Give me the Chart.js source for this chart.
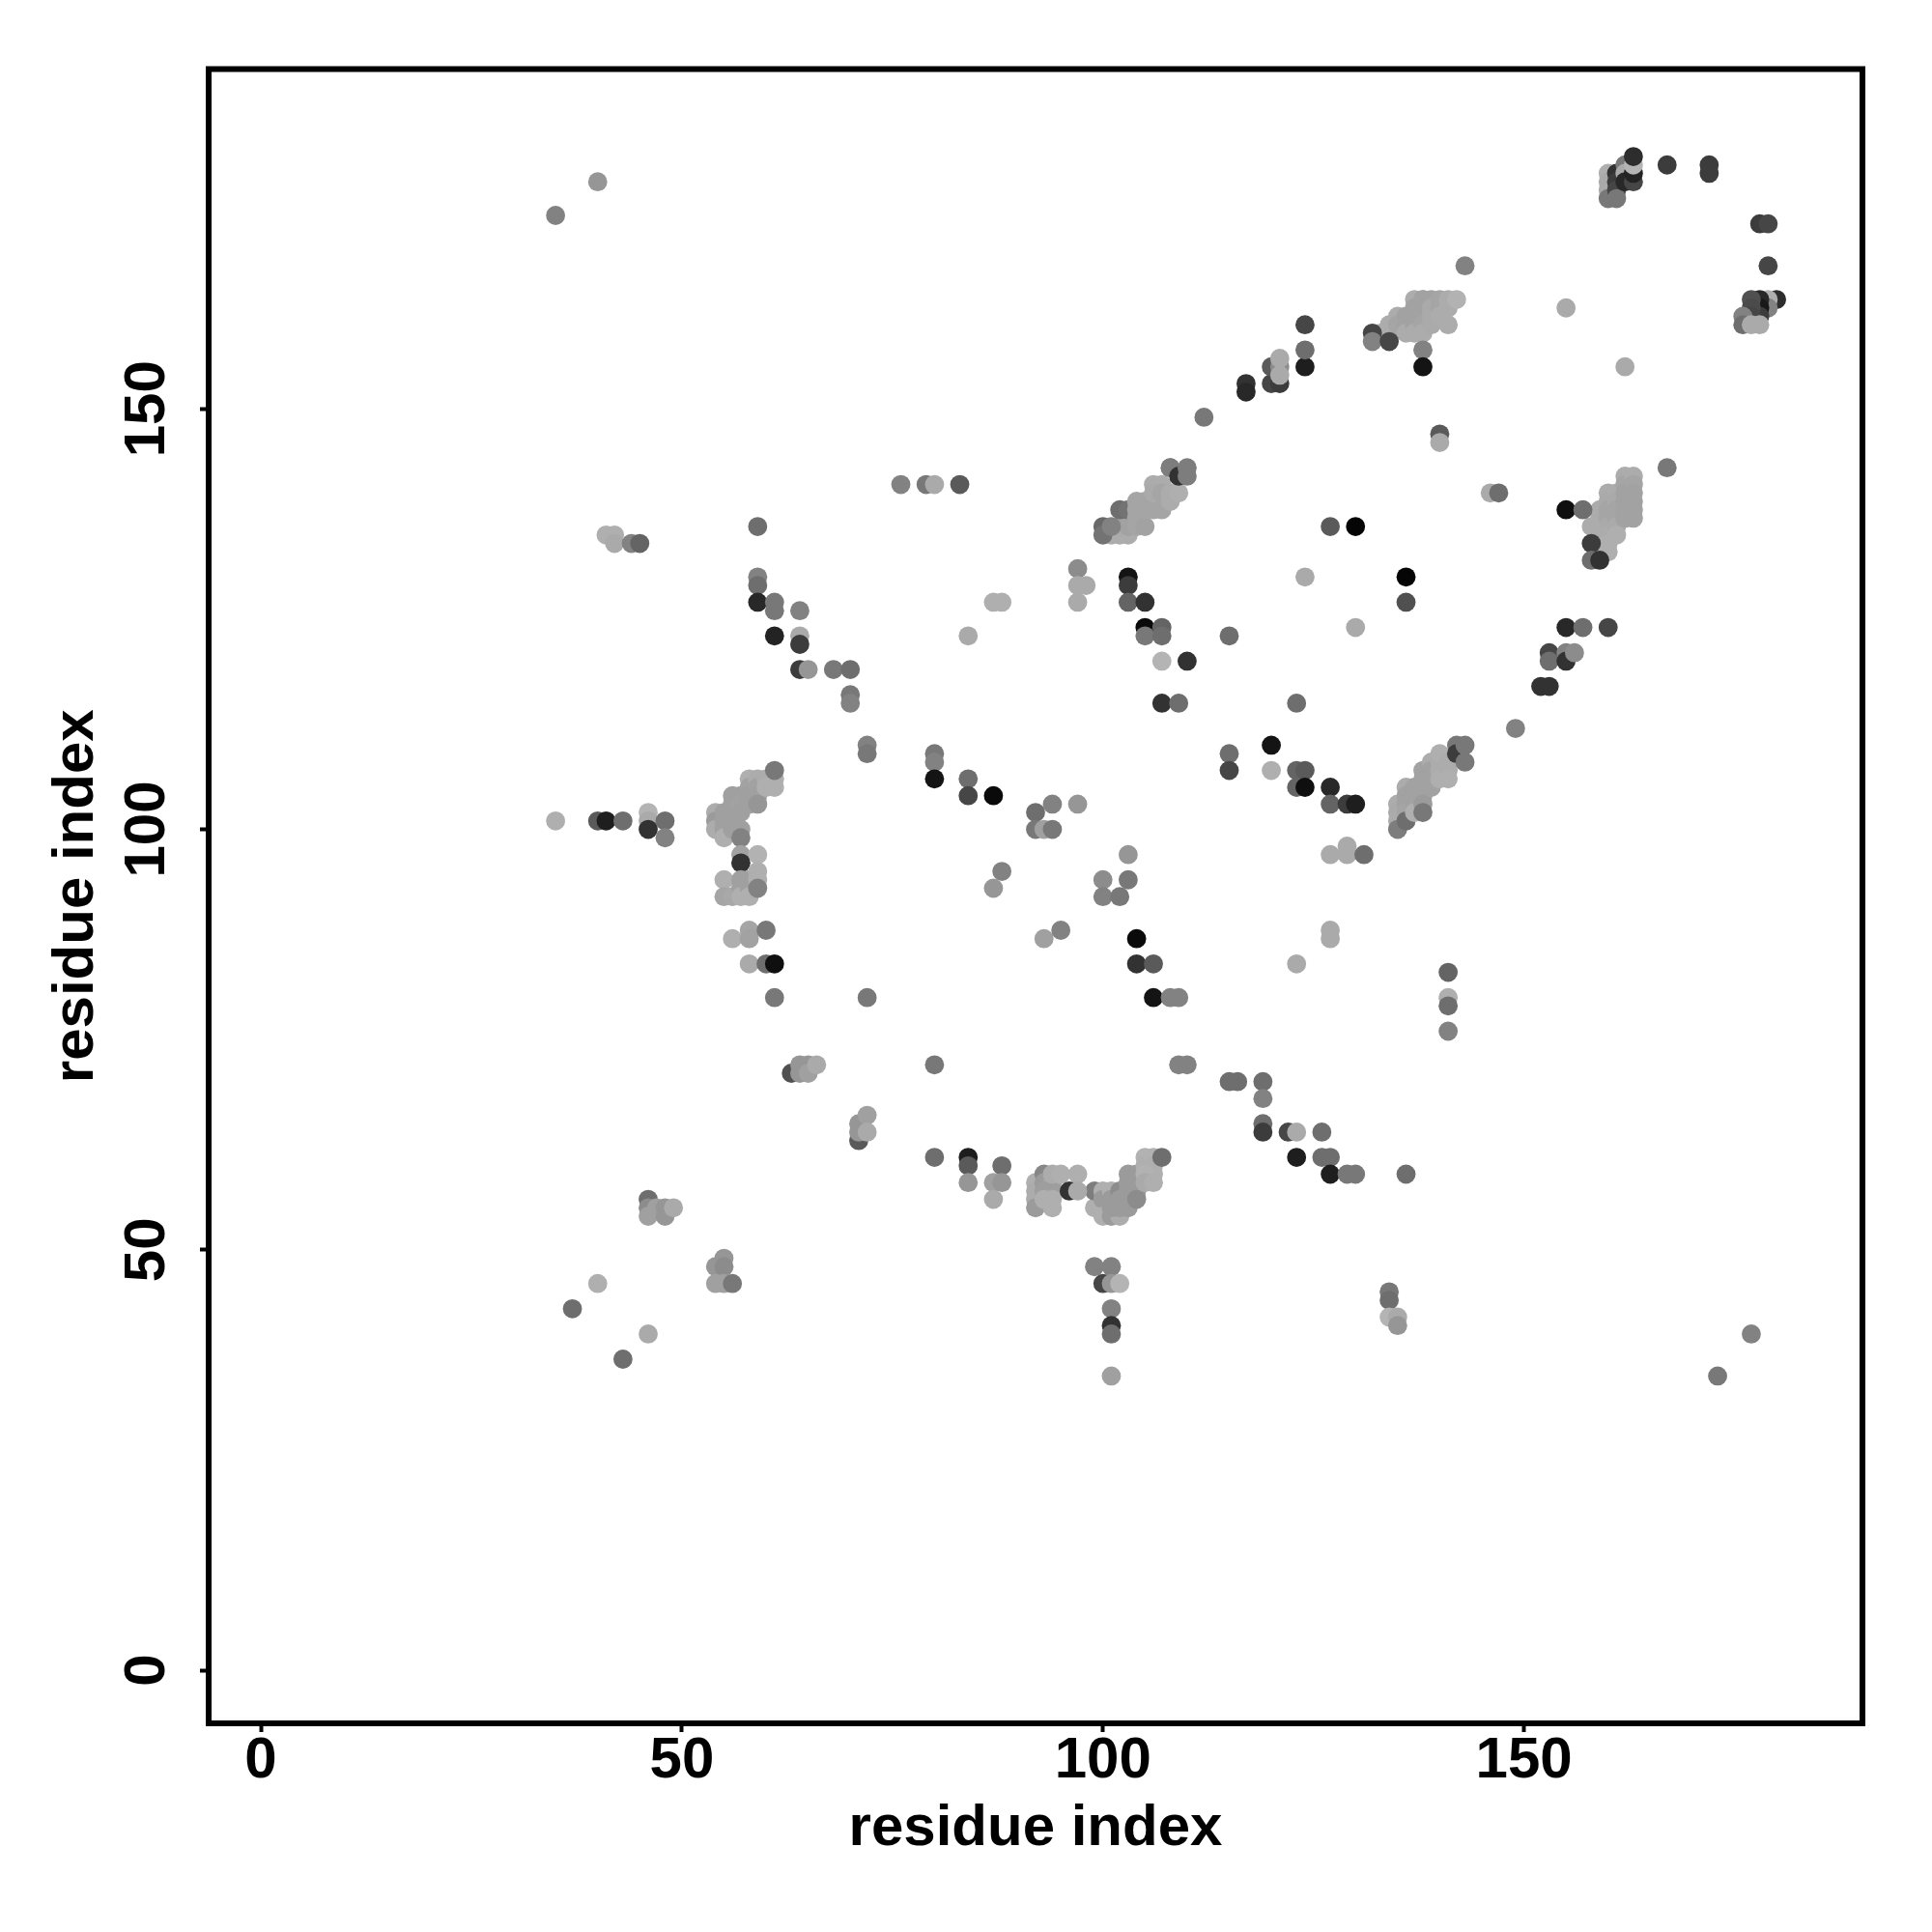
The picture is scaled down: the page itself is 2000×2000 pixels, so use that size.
<!DOCTYPE html>
<html>
<head>
<meta charset="utf-8">
<style>html,body{margin:0;padding:0;background:#fff}canvas{display:block}</style>
<script src="https://cdn.jsdelivr.net/npm/chart.js@4"></script>
</head>
<body>
<canvas id="c" width="2000" height="2000"></canvas>
<script>
const axisTitle = "residue index";
const tickValues = [0, 50, 100, 150];

// Each region: residue x, residue y, grey level of the dot
const farLeftX = [35,40,35,40,41,43,46,46,46,48,48,41,42,42,44,45];
const farLeftY = [173,177,101,101,101,101,102,101,100,101,99,135,135,134,134,134];
const farLeftG = [130,150,175,90,30,110,180,170,50,110,130,175,175,170,130,100];

const armX = [59,59,59,59,61,61,61,64,64,64,64,65,68,70,70,70,72,72,76,79,80,83];
const armY = [136,130,129,127,127,126,123,126,123,122,119,119,119,119,116,115,110,109,141,141,141,141];
const armG = [110,130,110,40,120,120,35,130,170,60,60,150,120,110,120,130,130,120,130,120,170,90];

const centreX = [80,80,80,84,84,84,87,87,88,92,94,97,92,93,94,88,87,100,100,102,103,103,93,95,104,104,106,106,108,109,97,97,98,97];
const centreY = [109,108,106,123,106,104,104,127,127,102,103,103,100,100,100,95,93,94,92,92,97,94,87,88,87,84,84,80,80,80,131,129,129,127];
const centreG = [120,130,20,170,110,70,10,175,175,110,130,150,120,160,120,130,150,140,130,120,150,120,160,130,10,50,90,20,130,130,140,170,170,170];

const loopX = [103,103,103,105,105,107,105,107,110,107,107,109,115,115,115,120,123,120,123,124,123,124,127,127,129,130,127,129,129,131,127,130,124,130,136,136,123,127,127,141,141,141,141,140,140,146,147];
const loopY = [130,129,127,127,124,124,123,123,120,120,115,115,123,109,107,110,115,107,107,107,105,105,105,103,103,103,97,98,97,97,136,136,130,124,130,127,84,88,87,83,80,79,76,147,146,140,140];
const loopG = [20,60,100,50,10,100,120,110,50,180,50,110,110,110,70,20,110,175,100,90,100,15,40,100,60,30,170,170,170,110,90,5,170,170,5,80,170,170,170,100,175,110,130,90,170,170,110];

const ridgeX = [112,117,117,120,121,120,121,121,121,124,124,124,132,132,134,138,138,143,155,162,167];
const ridgeY = [149,153,152,153,153,155,155,154,156,155,157,160,159,158,158,157,155,167,162,155,143];
const ridgeG = [120,50,40,70,60,90,140,170,170,30,110,70,70,130,70,130,20,130,170,170,120];

const rightX = [149,152,153,153,153,155,155,155,156,157,160,155,157,158,158,159];
const rightY = [112,117,117,121,120,124,121,120,121,124,124,138,138,134,132,132];
const rightG = [130,50,50,70,110,40,130,50,140,110,70,15,110,60,110,50];

const crownX = [172,172,167,160,160,160,160,161,161,161,161,162,162,162,163,163,163,163,178,179,179,180,179,179,178,178,178,177,177,177,176,176,177,178];
const crownY = [179,178,179,178,177,176,175,178,177,176,175,179,178,177,177,178,179,180,172,172,167,163,163,162,163,162,161,163,162,161,161,160,160,160];
const crownG = [60,60,60,175,170,170,120,50,60,70,120,120,170,40,70,35,180,45,60,70,70,45,175,130,40,25,60,80,75,70,130,110,170,170];

const lowerX = [37,40,43,46,46,46,46,47,48,48,49,54,55,55,54,55,56,99,101,100,101,102,101,101,101,101,134,134,134,135,135,173,177,136];
const lowerY = [43,46,37,40,56,55,54,55,55,54,55,48,49,48,46,46,46,48,48,46,46,46,43,41,40,35,45,44,42,42,41,35,40,59];
const lowerG = [110,175,110,170,110,140,160,160,150,150,170,150,150,140,160,160,120,130,130,70,150,180,130,50,110,160,120,110,180,170,150,120,130,110];

const chainX = [63,64,64,65,65,66,61,72,80,71,71,71,72,72,80,84,84,88,84,87,88,87,109,110,115,116,119,119,119,119,122,123,126,123,126,127,127,129,130,107];
const chainY = [71,71,72,72,71,72,80,80,72,63,65,64,66,64,61,61,60,60,58,58,58,56,72,72,70,70,70,68,65,64,64,64,64,61,61,61,59,59,59,61];
const chainG = [80,150,150,150,160,170,120,120,120,90,150,150,160,170,110,30,90,110,150,160,150,170,130,130,110,110,110,130,110,60,70,170,110,30,110,110,30,120,120,110];

const troughLeftX = [92,92,92,92,93,93,94,94,93,94,94,93,94,95,97,96,97];
const troughLeftY = [58,57,56,55,59,58,58,57,57,56,55,56,59,59,59,57,57];
const troughLeftG = [175,172,172,155,135,155,165,158,158,175,175,175,172,175,175,50,170];

const troughRightX = [99,99,100,100,100,101,102,101,101,101,102,102,102,103,103,103,103,103,104,104,104,104,105,105,106,106,106,105,105,106];
const troughRightY = [55,57,57,56,54,54,54,57,56,55,57,56,55,59,58,57,56,55,59,58,57,56,61,60,61,60,59,59,58,58];
const troughRightG = [175,125,175,155,175,155,172,175,155,155,140,155,155,155,155,155,155,155,155,155,155,140,178,175,178,175,175,178,170,175];

const columnX = [54,54,54,55,55,55,55,56,56,56,56,56,57,57,57,57,57,58,58,58,58,59,59,59,59,60,60,61,61,61,57,59,57,55,55,56,57,57,57,58,58,58,59,59,59,56,58,58,60,58,60,61];
const columnY = [102,101,100,102,101,100,99,104,103,102,101,100,104,103,102,100,99,106,105,104,103,106,105,104,103,106,105,106,105,107,97,97,96,94,92,92,94,93,92,94,93,92,95,94,93,87,88,87,88,84,84,84];
const columnG = [172,155,172,160,160,160,175,160,160,160,160,160,160,162,160,160,130,175,162,160,160,172,162,160,150,172,175,175,175,120,162,178,50,175,165,168,160,160,175,160,160,175,175,175,130,175,165,162,120,170,110,15];

const diagAX = [102,103,101,102,103,103,100,100,101,102,103,104,104,104,105,105,105,106,106,106,107,107,107,104,106,107,108,108,109,108,108,109,110,110];
const diagAY = [135,135,135,136,136,137,136,135,136,138,138,136,137,138,136,138,139,138,139,141,138,139,141,139,140,140,140,139,140,143,143,142,143,142];
const diagAG = [172,172,172,170,162,162,105,115,130,110,115,165,165,165,162,165,165,165,165,172,165,165,172,165,170,165,172,172,175,125,125,50,125,125];

const diagBX = [133,134,134,135,135,136,136,136,137,137,137,137,137,138,138,138,138,138,138,139,139,139,139,140,140,140,141,141,141,142];
const diagBY = [159,160,159,161,160,161,160,159,163,162,161,160,159,163,162,161,160,159,163,163,162,161,160,163,162,161,163,162,160,163];
const diagBG = [172,172,172,172,165,162,162,172,172,162,162,162,172,162,162,162,165,172,162,162,170,170,170,165,165,172,172,172,172,178];

const diagCX = [158,159,159,159,159,159,160,160,160,160,160,160,160,160,161,161,161,161,161,161,162,162,162,162,162,162,163,163,163,163,163,163];
const diagCY = [136,138,137,136,135,134,140,139,138,137,136,135,134,133,140,139,138,137,136,135,142,141,140,139,138,137,142,141,140,139,138,137];
const diagCG = [172,172,172,172,172,172,172,170,165,165,170,172,175,175,172,170,165,165,170,175,172,165,162,162,162,162,172,165,162,162,162,162];

const diagDX = [135,135,135,135,136,136,136,136,136,137,137,137,137,138,138,138,138,138,138,139,139,139,139,140,140,140,140,141,141,141,142,142,143,143];
const diagDY = [103,102,101,100,105,104,103,102,101,105,104,103,102,107,106,105,104,103,102,108,107,106,105,108,107,106,109,108,107,106,110,109,110,108];
const diagDG = [172,170,172,125,172,162,162,165,110,162,162,162,175,162,162,162,162,155,120,172,162,162,162,172,172,175,175,172,172,175,120,60,120,120];

const regions = [
  [farLeftX, farLeftY, farLeftG],
  [armX, armY, armG],
  [centreX, centreY, centreG],
  [loopX, loopY, loopG],
  [ridgeX, ridgeY, ridgeG],
  [rightX, rightY, rightG],
  [crownX, crownY, crownG],
  [lowerX, lowerY, lowerG],
  [chainX, chainY, chainG],
  [troughLeftX, troughLeftY, troughLeftG],
  [troughRightX, troughRightY, troughRightG],
  [columnX, columnY, columnG],
  [diagAX, diagAY, diagAG],
  [diagBX, diagBY, diagBG],
  [diagCX, diagCY, diagCG],
  [diagDX, diagDY, diagDG]
];

const datasets = regions.map(([xs, ys, gs]) => ({
  data: xs.map((x, i) => ({ x, y: ys[i] })),
  backgroundColor: gs.map(g => `rgb(${g},${g},${g})`),
  pointRadius: 9.9,
  pointBorderWidth: 0,
  pointHoverRadius: 9.9,
  showLine: false
}));

const FONT = "'Liberation Sans', Arial, sans-serif";

const boxPlugin = {
  id: "box",
  afterDatasetsDraw(chart) {
    const a = chart.chartArea, ctx = chart.ctx;
    ctx.save();
    ctx.strokeStyle = "#000";
    ctx.lineWidth = 6;
    ctx.strokeRect(a.left, a.top, a.right - a.left, a.bottom - a.top);
    ctx.restore();
  }
};

const commonTicks = {
  color: "#000",
  autoSkip: false,
  font: { family: FONT, size: 60, weight: "bold" }
};
const commonGrid = {
  drawOnChartArea: false,
  drawTicks: true,
  tickLength: 9,
  tickWidth: 4,
  tickColor: "#000"
};
const setTicks = s => { s.ticks = tickValues.map(v => ({ value: v })); };

new Chart(document.getElementById("c"), {
  type: "scatter",
  data: { datasets },
  plugins: [boxPlugin],
  options: {
    responsive: false,
    animation: false,
    events: [],
    layout: { padding: { top: 71.5, right: 72, left: 0, bottom: 0 } },
    plugins: { legend: { display: false }, tooltip: { enabled: false } },
    scales: {
      x: {
        type: "linear",
        min: -6.2,
        max: 190.2,
        afterBuildTicks: setTicks,
        afterFit: s => { s.height = 216; },
        border: { display: false },
        grid: commonGrid,
        ticks: { ...commonTicks, maxRotation: 0, padding: -6 },
        title: {
          display: true,
          text: axisTitle,
          color: "#000",
          font: { family: FONT, size: 60, weight: "bold" },
          padding: { top: 0, bottom: 71 }
        }
      },
      y: {
        type: "linear",
        min: -6.3,
        max: 190.4,
        afterBuildTicks: setTicks,
        afterFit: s => { s.width = 216; },
        border: { display: false },
        grid: commonGrid,
        ticks: { ...commonTicks, minRotation: 90, maxRotation: 90, crossAlign: "center", padding: 3 },
        title: {
          display: true,
          text: axisTitle,
          color: "#000",
          font: { family: FONT, size: 60, weight: "bold" },
          padding: { top: 43, bottom: 0 }
        }
      }
    }
  }
});
</script>
</body>
</html>
